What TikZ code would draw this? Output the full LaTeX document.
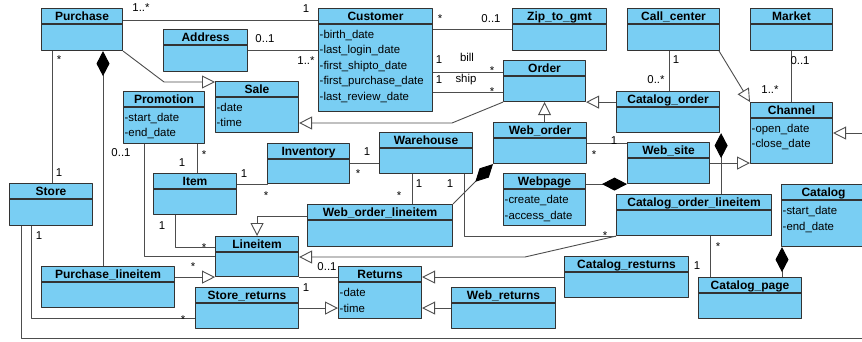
\documentclass[tikz,border=0pt]{standalone}
\usepackage{fontspec}
\setmainfont{Liberation Sans}
\usetikzlibrary{arrows.meta}
\definecolor{classfill}{HTML}{79CEF3}
\definecolor{classedge}{HTML}{333333}
\definecolor{linkgray}{HTML}{4D4D4D}
\begin{document}
\begin{tikzpicture}[x=1pt,y=-1pt,line join=round,
 cls/.style={draw=classedge,fill=classfill,line width=1.1pt,anchor=north west,inner sep=0pt},
 cline/.style={draw=classedge,line width=1.1pt},
 ctitle/.style={font=\fontsize{12pt}{14pt}\selectfont\bfseries,inner sep=0pt,text height=8.6pt,text depth=0pt},
 cattr/.style={font=\fontsize{11.4pt}{14pt}\selectfont,inner sep=0pt,anchor=base west},
 mult/.style={font=\fontsize{11.4pt}{14pt}\selectfont,inner sep=0pt,text height=8pt,text depth=0pt},
 assoc/.style={draw=linkgray,line width=0.9pt},
 gen/.style={assoc,-{Triangle[length=13pt,width=13pt,fill=white]}},
 comp/.style={assoc,{Diamond[length=25pt,width=13pt,fill=black,color=black]}-}]
 % name, corner, width, height, title, attributes
 \def\umlclass#1#2#3#4#5#6{%
  \node[cls,minimum width=#3pt,minimum height=#4pt] (#1) at (#2) {};
  \node[ctitle] (#1-title) at ([yshift=-8pt]#1.north) {#5};
  \draw[cline] ([yshift=-16pt]#1.north west) -- ([yshift=-16pt]#1.north east);
  \foreach \t [count=\k] in {#6}
   \node[cattr] (#1-\k) at ([xshift=1.5pt,yshift={-15pt-15.5pt*\k}]#1.north west) {\t};
 }
 \fill[white] (0,0) rectangle (862,342);
 \useasboundingbox (0,0) rectangle (862,342);
 \clip (0,0) rectangle (862,342);

 % classes
 \umlclass{purchase}{41,8}{81}{42}{Purchase}{}
 \umlclass{customer}{318,8}{114}{103}{Customer}{-birth\_date,-last\_login\_date,-first\_shipto\_date,-first\_purchase\_date,-last\_review\_date}
 \umlclass{zip}{512,8}{94}{42}{Zip\_to\_gmt}{}
 \umlclass{callcenter}{627,8}{92}{42}{Call\_center}{}
 \umlclass{market}{750,8}{82}{42}{Market}{}
 \umlclass{address}{163,29}{84}{42}{Address}{}
 \umlclass{sale}{215,81}{83}{51}{Sale}{-date,-time}
 \umlclass{promotion}{123,91}{81}{52}{Promotion}{-start\_date,-end\_date}
 \umlclass{order}{503,60}{82}{41}{Order}{}
 \umlclass{catorder}{616,91}{103}{41}{Catalog\_order}{}
 \umlclass{channel}{750,102}{82}{61}{Channel}{-open\_date,-close\_date}
 \umlclass{weborder}{493,122}{93}{41}{Web\_order}{}
 \umlclass{website}{627,142}{82}{41}{Web\_site}{}
 \umlclass{webpage}{503,173}{82}{52}{Webpage}{-create\_date,-access\_date}
 \umlclass{warehouse}{379,132}{93}{41}{Warehouse}{}
 \umlclass{inventory}{267,143}{82}{40}{Inventory}{}
 \umlclass{item}{153,173}{83}{41}{Item}{}
 \umlclass{store}{9,183}{83}{42}{Store}{}
 \umlclass{catalog}{781,184}{84}{62}{Catalog}{-start\_date,-end\_date}
 \umlclass{wol}{307,204}{145}{42}{Web\_order\_lineitem}{}
 \umlclass{col}{616,194}{155}{41}{Catalog\_order\_lineitem}{}
 \umlclass{lineitem}{215,236}{83}{40}{Lineitem}{}
 \umlclass{plineitem}{41,266}{133}{41}{Purchase\_lineitem}{}
 \umlclass{storeret}{195,287}{103}{41}{Store\_returns}{}
 \umlclass{returns}{338,266}{83}{52}{Returns}{-date,-time}
 \umlclass{webret}{451,287}{104}{41}{Web\_returns}{}
 \umlclass{catret}{564,256}{124}{41}{Catalog\_resturns}{}
 \umlclass{catpage}{698,277}{103}{41}{Catalog\_page}{}

 % bends and loose ends
 \coordinate (kneeA) at (164,82);
 \coordinate (kneeB) at (452,123);
 \coordinate (kneeC) at (525,257);
 \coordinate (farright) at (870,0);
 \coordinate (farbottom) at (870,338);
 \coordinate (bill) at ([yshift=-12pt]order.north west);
 \coordinate (ship) at ([yshift=-32pt]order.north west);
 \coordinate (storelink) at ([xshift=11pt]purchase.south west);
 \coordinate (plinelink) at ([xshift=62pt]purchase.south west);
 \coordinate (promolink) at ([xshift=21pt]promotion.south west);
 \coordinate (itemlink) at ([xshift=-8pt]promotion.south east);
 \coordinate (wollink) at ([xshift=33pt]warehouse.south west);
 \coordinate (calllink) at ([xshift=42pt]callcenter.south west);
 \coordinate (sitelink) at ([yshift=-21pt]weborder.north east);
 \coordinate (collink) at ([xshift=1pt]catorder.south east);
 \coordinate (pagelink) at ([xshift=1pt]catalog.south west);
 \coordinate (colpage) at ([xshift=94pt]col.south west);

 % associations
 \draw[assoc] ([yshift=-12pt]purchase.north east) -- ([yshift=-12pt]customer.north west);
 \draw[assoc] (address.east) -- (address.east -| customer.west);
 \draw[assoc] (zip.west -| customer.east) -- (zip.west);
 \draw[assoc] (bill -| customer.east) -- (bill);
 \draw[assoc] (ship -| customer.east) -- (ship);
 \draw[assoc] (storelink) -- (storelink |- store.north);
 \draw[assoc] (promolink) |- (lineitem.west);
 \draw[assoc] (itemlink) -- (itemlink |- item.north);
 \draw[assoc] ([yshift=-11pt]item.north east) -| (inventory.south west);
 \draw[assoc] (inventory.east) -- (inventory.east -| warehouse.west);
 \draw[assoc] (wollink) -- (wollink |- wol.north);
 \draw[assoc] ([xshift=-9pt]warehouse.south east) |- (col.south west);
 \draw[assoc] (calllink) -- (calllink |- catorder.north);
 \draw[assoc] (market.south) -- (channel.north);
 \draw[assoc] (sitelink) -- (sitelink -| website.west);
 \draw[assoc] (colpage) -- (colpage |- catpage.north);
 \draw[assoc] ([xshift=22pt]item.south west) |- ([yshift=-11pt]lineitem.north west);
 \draw[assoc] ([xshift=22pt]store.south west) |- ([yshift=-31pt]storeret.north west);
 \draw[assoc] ([xshift=12pt]store.south west) |- (farbottom);
 \draw[assoc] (lineitem.south east) -- (lineitem.south east -| returns.west);

 % compositions
 \draw[comp] (plinelink) -- (plinelink |- plineitem.north);
 \draw[comp] (weborder.south west) -- (wol.north east);
 \draw[comp] (website.south west) -- (website.south west -| webpage.east);
 \draw[comp] (collink) -- (collink |- col.north);
 \draw[comp] (pagelink) -- (pagelink |- catpage.north);

 % generalizations
 \draw[gen] (purchase.south east) -- (kneeA) -- (kneeA -| sale.west);
 \draw[gen] (order.south west) -- (kneeB) -- (kneeB -| sale.east);
 \draw[gen] (order.south |- weborder.north) -- (order.south);
 \draw[gen] (order.south east -| catorder.west) -- (order.south east);
 \draw[gen] ([xshift=-1pt]callcenter.south east) -- (channel.north west);
 \draw[gen] (website.east) -- (website.east -| channel.west);
 \draw[gen] (channel.east -| farright) -- (channel.east);
 \draw[gen] (col.south west) -- (kneeC) -- (kneeC -| lineitem.east);
 \draw[gen] ([yshift=-12pt]wol.north west) -| (lineitem.north);
 \draw[gen] (lineitem.south west -| plineitem.east) -- (lineitem.south west);
 \draw[gen] (storeret.east) -- (storeret.east -| returns.west);
 \draw[gen] (catret.west) -- (catret.west -| returns.east);
 \draw[gen] (webret.west) -- (webret.west -| returns.east);

 % multiplicities and roles
 \node[mult] (m1) at (141,8) {1..*};
 \node[mult] (m2) at (306,9) {1};
 \node[mult] (m3) at (265,39) {0..1};
 \node[mult] (m4) at (306,61) {1..*};
 \node[mult] (m5) at (440,19) {*};
 \node[mult] (m6) at (491,19) {0..1};
 \node[mult] (m7) at (439,60) {1};
 \node[mult] (m8) at (467,58) {bill};
 \node[mult] (m9) at (492,71) {*};
 \node[mult] (m10) at (439,80) {1};
 \node[mult] (m11) at (466,79) {ship};
 \node[mult] (m12) at (492,92) {*};
 \node[mult] (m13) at (59,60) {*};
 \node[mult] (m14) at (59,172) {1};
 \node[mult] (m15) at (121,153) {0..1};
 \node[mult] (m16) at (204,154) {*};
 \node[mult] (m17) at (182,163) {1};
 \node[mult] (m18) at (244,173) {1};
 \node[mult] (m19) at (266,195) {*};
 \node[mult] (m20) at (367,152) {1};
 \node[mult] (m21) at (358,174) {*};
 \node[mult] (m22) at (419,183) {1};
 \node[mult] (m23) at (399,195) {*};
 \node[mult] (m24) at (450,183) {1};
 \node[mult] (m25) at (605,235) {*};
 \node[mult] (m26) at (676,60) {1};
 \node[mult] (m27) at (656,80) {0..*};
 \node[mult] (m28) at (770,90) {1..*};
 \node[mult] (m29) at (800,61) {0..1};
 \node[mult] (m30) at (614,141) {1};
 \node[mult] (m31) at (594,154) {*};
 \node[mult] (m32) at (162,225) {1};
 \node[mult] (m33) at (204,247) {*};
 \node[mult] (m34) at (193,266) {*};
 \node[mult] (m35) at (718,246) {*};
 \node[mult] (m36) at (697,265) {1};
 \node[mult] (m37) at (39,235) {1};
 \node[mult] (m38) at (183,319) {*};
 \node[mult] (m39) at (327,266) {0..1};
 \node[mult] (m40) at (306,287) {1};
\end{tikzpicture}
\end{document}
